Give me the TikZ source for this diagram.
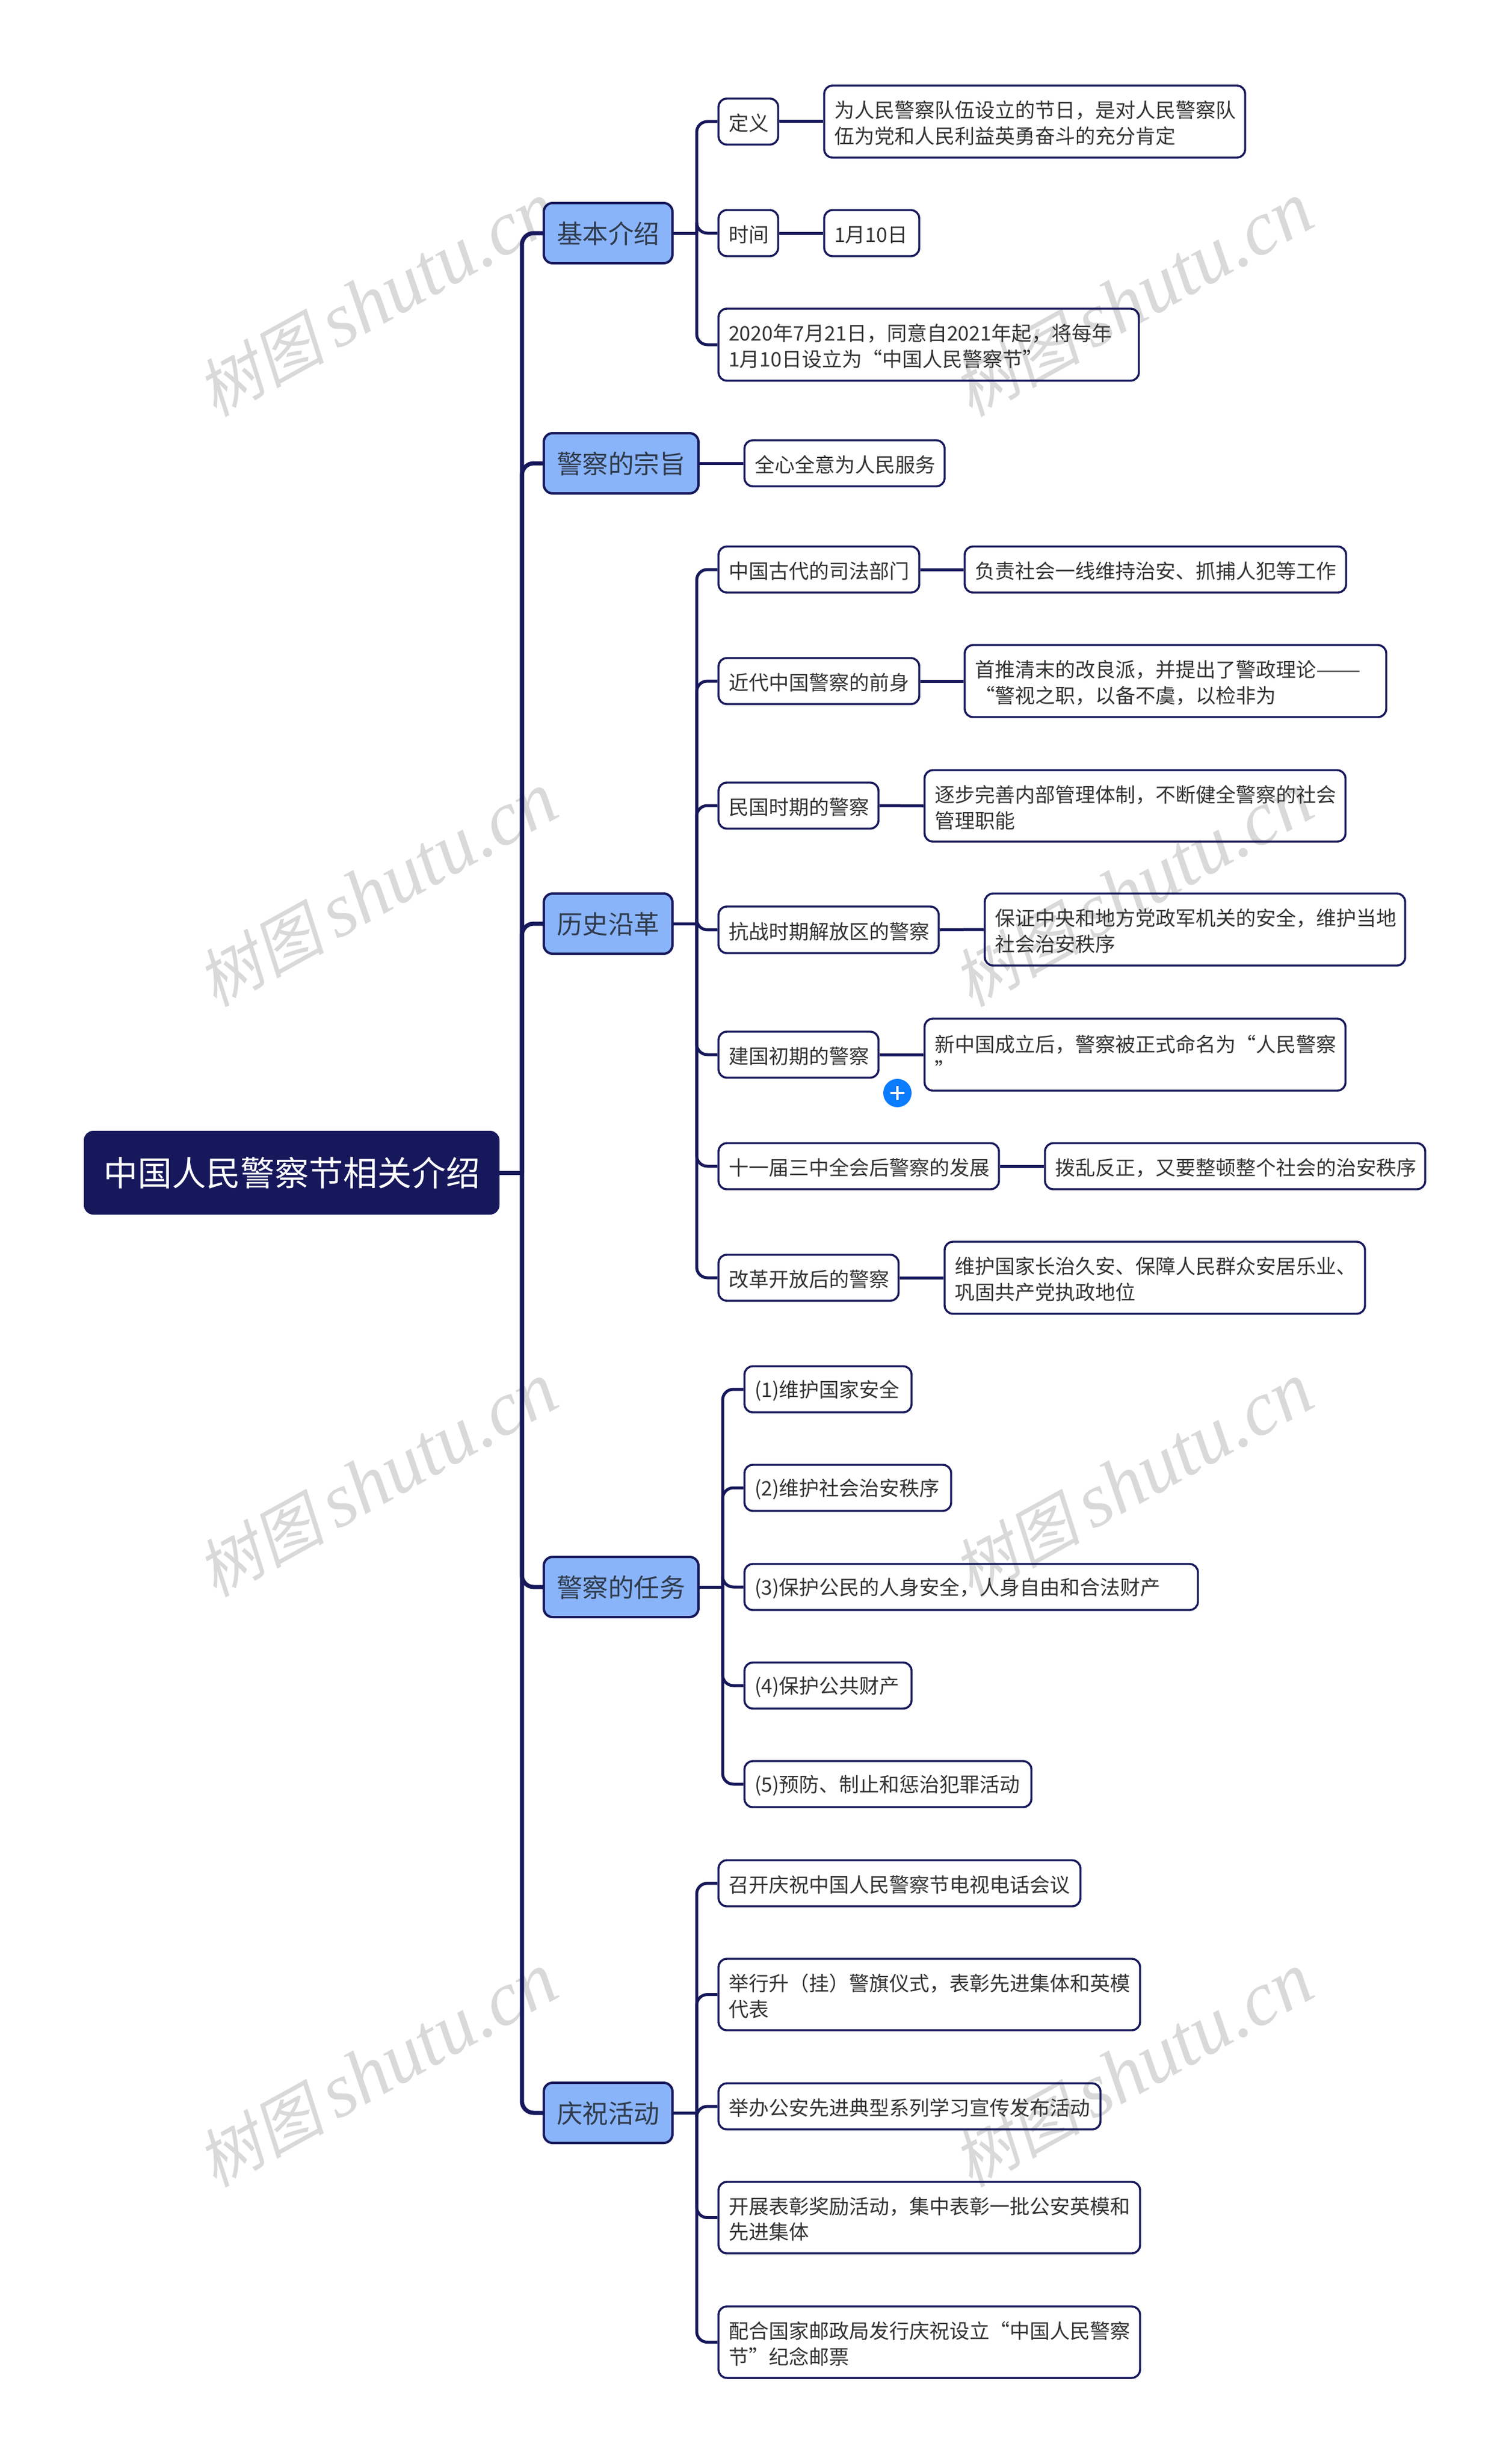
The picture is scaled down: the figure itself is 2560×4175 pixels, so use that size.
\documentclass[tikz,border=0pt]{standalone}
\usepackage{fontspec}
\setmainfont{Noto Sans CJK SC}
\newfontfamily\wmcjk[FakeSlant=0.2]{Noto Sans CJK SC}
\newfontfamily\wmlatin{Liberation Serif}
\definecolor{navy}{HTML}{17185B}
\definecolor{topicblue}{HTML}{8AB4FA}
\definecolor{inktopic}{HTML}{2F3B4C}
\definecolor{inkleaf}{HTML}{333333}
\definecolor{wmgrey}{HTML}{D9D9D9}
\definecolor{plusblue}{HTML}{0A7CFF}
\tikzset{
  rootbox/.style={draw=navy,fill=navy,line width=1pt,rounded corners=3.5pt,text=white,inner sep=0pt,align=center,font=\fontsize{14.5pt}{18pt}\selectfont},
  topicbox/.style={draw=navy,fill=topicblue,line width=1pt,rounded corners=3.75pt,text=inktopic,inner ysep=0pt,inner xsep=5.5pt,align=left,font=\fontsize{10.9pt}{14pt}\selectfont},
  leafbox/.style={draw=navy,line width=.85pt,rounded corners=3.5pt,text=inkleaf,inner ysep=0pt,inner xsep=4.25pt,align=left,font=\fontsize{8.5pt}{10.94pt}\selectfont},
  trunk/.style={draw=navy,line width=1.75pt,rounded corners=5pt},
  twig/.style={draw=navy,line width=1.25pt,rounded corners=4.5pt},
  wmark/.style={text=wmgrey,rotate=29,inner sep=0pt}
}
\def\bxpad{8.5}
\def\bxrule{8.5pt}
\newcommand\bx[7][]{%
  \pgfmathsetmacro\bxw{(#5-#3)*0.25}%
  \pgfmathsetmacro\bxh{(#6-#4)*0.25}%
  \pgfmathsetmacro\bxtw{\bxw-\bxpad}%
  \pgfmathsetmacro\bxcx{(#3+#5)/2}%
  \pgfmathsetmacro\bxcy{(#4+#6)/2}%
  \node[#1,minimum width=\bxw pt,minimum height=\bxh pt,text width=\bxtw pt] (#2) at (\bxcx,\bxcy) {\rule{0pt}{\bxrule}#7};%
}
\newcommand\wm[3]{\node[wmark] (#1) at (#2,#3) {{\wmcjk\fontsize{27pt}{30pt}\selectfont 树图}\hspace{5pt}{\wmlatin\itshape\fontsize{32.5pt}{34pt}\selectfont shutu.cn}};}
\begin{document}
\begin{tikzpicture}[x=0.25pt,y=-0.25pt]
\useasboundingbox (0,0) rectangle (2560,4175);
\fill[white] (0,0) rectangle (2560,4175);
% watermarks
\wm{w1}{639}{508}\wm{w2}{1919}{508}
\wm{w3}{639}{1508}\wm{w4}{1919}{1508}
\wm{w5}{639}{2508}\wm{w6}{1919}{2508}
\wm{w7}{639}{3508}\wm{w8}{1919}{3508}
% root
\node[rootbox,minimum width=175pt,minimum height=34.5pt] (root) at (494,1987) {中国人民警察节相关介绍};
% topics
\def\bxpad{11}
\def\bxrule{9.8pt}
\bx[topicbox]{t1}{921}{344}{1139}{446}{基本介绍}
\bx[topicbox]{t2}{921}{734}{1183}{836}{警察的宗旨}
\bx[topicbox]{t3}{921}{1514}{1139}{1616}{历史沿革}
\bx[topicbox]{t4}{921}{2638}{1183}{2740}{警察的任务}
\bx[topicbox]{t5}{921}{3529}{1139}{3631}{庆祝活动}
\def\bxpad{8.5}
\def\bxrule{8.5pt}
% group 1
\bx[leafbox]{a1}{1217}{167}{1318}{245}{定义}
\bx[leafbox]{a1c}{1396}{145}{2109}{267}{为人民警察队伍设立的节日，是对人民警察队\\伍为党和人民利益英勇奋斗的充分肯定}
\bx[leafbox]{a2}{1217}{356}{1318}{434}{时间}
\bx[leafbox]{a2c}{1396}{356}{1557}{434}{1月10日}
\bx[leafbox]{a3}{1217}{523}{1929}{645}{2020年7月21日，同意自2021年起，将每年\\1月10日设立为“中国人民警察节”}
% group 2
\bx[leafbox]{b1}{1261}{746}{1600}{824}{全心全意为人民服务}
% group 3
\bx[leafbox]{c1}{1217}{926}{1557}{1004}{中国古代的司法部门}
\bx[leafbox]{c1c}{1634}{926}{2280}{1004}{负责社会一线维持治安、抓捕人犯等工作}
\bx[leafbox]{c2}{1217}{1115}{1557}{1193}{近代中国警察的前身}
\bx[leafbox]{c2c}{1634}{1093}{2348}{1215}{首推清末的改良派，并提出了警政理论\scalebox{1.33}[1]{——}\\“警视之职，以备不虞，以检非为}
\bx[leafbox]{c3}{1217}{1326}{1488}{1404}{民国时期的警察}
\bx[leafbox]{c3c}{1566}{1305}{2279}{1426}{逐步完善内部管理体制，不断健全警察的社会\\管理职能}
\bx[leafbox]{c4}{1217}{1536}{1590}{1615}{抗战时期解放区的警察}
\bx[leafbox]{c4c}{1668}{1514}{2380}{1636}{保证中央和地方党政军机关的安全，维护当地\\社会治安秩序}
\bx[leafbox]{c5}{1217}{1748}{1488}{1826}{建国初期的警察}
\bx[leafbox]{c5c}{1566}{1726}{2279}{1848}{新中国成立后，警察被正式命名为“人民警察\\”}
\bx[leafbox]{c6}{1217}{1937}{1692}{2015}{十一届三中全会后警察的发展}
\bx[leafbox]{c6c}{1770}{1937}{2414}{2015}{拨乱反正，又要整顿整个社会的治安秩序}
\bx[leafbox]{c7}{1217}{2126}{1522}{2204}{改革开放后的警察}
\bx[leafbox]{c7c}{1600}{2104}{2312}{2226}{维护国家长治久安、保障人民群众安居乐业、\\巩固共产党执政地位}
% group 4
\bx[leafbox]{d1}{1261}{2315}{1544}{2393}{(1)维护国家安全}
\bx[leafbox]{d2}{1261}{2482}{1611}{2560}{(2)维护社会治安秩序}
\bx[leafbox]{d3}{1261}{2650}{2029}{2728}{(3)保护公民的人身安全，人身自由和合法财产}
\bx[leafbox]{d4}{1261}{2817}{1544}{2895}{(4)保护公共财产}
\bx[leafbox]{d5}{1261}{2984}{1747}{3062}{(5)预防、制止和惩治犯罪活动}
% group 5
\bx[leafbox]{e1}{1217}{3152}{1830}{3230}{召开庆祝中国人民警察节电视电话会议}
\bx[leafbox]{e2}{1217}{3319}{1931}{3440}{举行升（挂）警旗仪式，表彰先进集体和英模\\代表}
\bx[leafbox]{e3}{1217}{3530}{1864}{3608}{举办公安先进典型系列学习宣传发布活动}
\bx[leafbox]{e4}{1217}{3697}{1931}{3818}{开展表彰奖励活动，集中表彰一批公安英模和\\先进集体}
\bx[leafbox]{e5}{1217}{3908}{1931}{4029}{配合国家邮政局发行庆祝设立“中国人民警察\\节”纪念邮票}
% junction points on the vertical trunks
\coordinate (jr) at ([xshift=9.5pt]root.east);
\coordinate (j1) at ([xshift=9.75pt]t1.east);
\coordinate (j3) at ([xshift=9.75pt]t3.east);
\coordinate (j4) at ([xshift=9.75pt]t4.east);
\coordinate (j5) at ([xshift=9.75pt]t5.east);
% connectors: root to topics
\draw[trunk] (root.east) -- (jr);
\foreach \t in {t1,t2,t3,t4,t5}{\draw[trunk] (jr) |- (\t.west);}
% topic to children
\foreach \t/\j in {t1/j1,t3/j3,t4/j4,t5/j5}{\draw[twig] (\t.east) -- (\j);}
\foreach \j/\c in {j1/a1,j1/a2,j1/a3,j3/c1,j3/c2,j3/c3,j3/c4,j3/c5,j3/c6,j3/c7,j4/d1,j4/d2,j4/d3,j4/d4,j4/d5,j5/e1,j5/e2,j5/e3,j5/e4,j5/e5}{\draw[twig] (\j) |- (\c.west);}
\draw[twig] (t2.east) -- (b1.west);
% child to grandchild
\foreach \p in {a1,a2,c1,c2,c3,c4,c5,c6,c7}{\draw[twig] (\p.east) -- (\p c.west);}
% collapse button
\node[circle,fill=plusblue,minimum size=12pt,inner sep=0pt] (plus) at (1520,1852) {};
\draw[white,line width=1pt] ([xshift=-3pt]plus.center) -- ([xshift=3pt]plus.center);
\draw[white,line width=1pt] ([yshift=-3pt]plus.center) -- ([yshift=3pt]plus.center);
\end{tikzpicture}
\end{document}
